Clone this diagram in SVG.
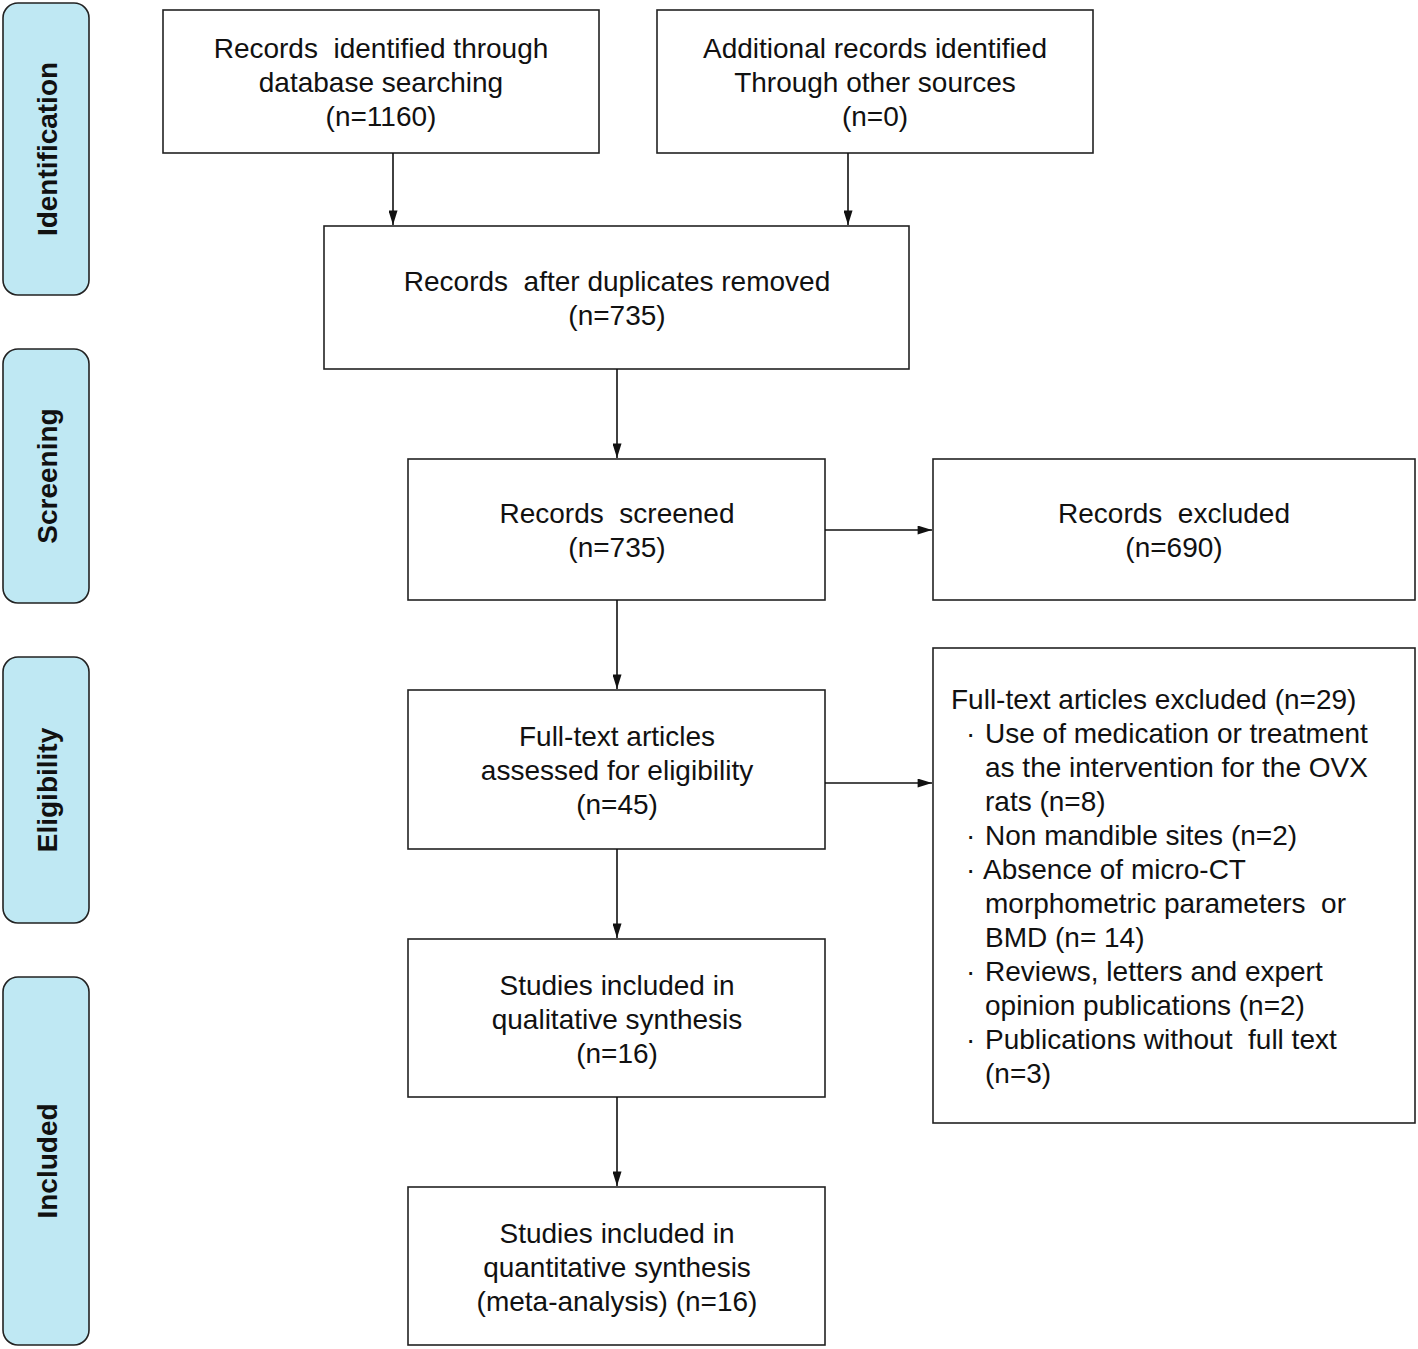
<svg xmlns="http://www.w3.org/2000/svg" width="1418" height="1349" viewBox="0 0 1418 1349">
<style>
.box{fill:#fff;stroke:#222;stroke-width:1.6}
.side{fill:#bfe8f3;stroke:#222;stroke-width:1.6}
.t{font-family:"Liberation Sans",Arial,sans-serif;font-size:28px;fill:#111;text-anchor:middle}
.tl{font-family:"Liberation Sans",Arial,sans-serif;font-size:28px;fill:#111}
.s{font-family:"Liberation Sans",Arial,sans-serif;font-size:28px;font-weight:bold;fill:#111;text-anchor:middle}
.c{stroke:#111;stroke-width:1.6;fill:none;marker-end:url(#a)}
</style>
<defs>
<marker id="a" viewBox="0 0 16 10" refX="16" refY="5" markerWidth="15" markerHeight="9" markerUnits="userSpaceOnUse" orient="auto">
<path d="M0,0 L16,5 L0,10 z" fill="#111"/>
</marker>
</defs>
<rect width="1418" height="1349" fill="#fff"/>
<g id="side-identification"><rect class="side" x="3" y="3" width="86" height="292" rx="15"/><text class="s" transform="translate(57,149) rotate(-90)">Identification</text></g>
<g id="side-screening"><rect class="side" x="3" y="349" width="86" height="254" rx="15"/><text class="s" transform="translate(57,476) rotate(-90)">Screening</text></g>
<g id="side-eligibility"><rect class="side" x="3" y="657" width="86" height="266" rx="15"/><text class="s" transform="translate(57,790) rotate(-90)">Eligibility</text></g>
<g id="side-included"><rect class="side" x="3" y="977" width="86" height="368" rx="15"/><text class="s" transform="translate(57,1161) rotate(-90)">Included</text></g>

<g id="n1"><rect class="box" x="163" y="10" width="436" height="143"/>
<text class="t" x="381" y="58" xml:space="preserve">Records  identified through</text>
<text class="t" x="381" y="92">database searching</text>
<text class="t" x="381" y="126">(n=1160)</text></g>
<g id="n2"><rect class="box" x="657" y="10" width="436" height="143"/>
<text class="t" x="875" y="58">Additional records identified</text>
<text class="t" x="875" y="92">Through other sources</text>
<text class="t" x="875" y="126">(n=0)</text></g>
<g id="n3"><rect class="box" x="324" y="226" width="585" height="143"/>
<text class="t" x="617" y="291" xml:space="preserve">Records  after duplicates removed</text>
<text class="t" x="617" y="325">(n=735)</text></g>
<g id="n4"><rect class="box" x="408" y="459" width="417" height="141"/>
<text class="t" x="617" y="523" xml:space="preserve">Records  screened</text>
<text class="t" x="617" y="557">(n=735)</text></g>
<g id="n5"><rect class="box" x="933" y="459" width="482" height="141"/>
<text class="t" x="1174" y="523" xml:space="preserve">Records  excluded</text>
<text class="t" x="1174" y="557">(n=690)</text></g>
<g id="n6"><rect class="box" x="408" y="690" width="417" height="159"/>
<text class="t" x="617" y="746">Full-text articles</text>
<text class="t" x="617" y="780">assessed for eligibility</text>
<text class="t" x="617" y="814">(n=45)</text></g>
<g id="n7"><rect class="box" x="933" y="648" width="482" height="475"/>
<text class="tl" x="951" y="709">Full-text articles excluded (n=29)</text>
<text class="tl" x="966" y="743">·</text><text class="tl" x="985" y="743">Use of medication or treatment</text>
<text class="tl" x="985" y="777">as the intervention for the OVX</text>
<text class="tl" x="985" y="811">rats (n=8)</text>
<text class="tl" x="966" y="845">·</text><text class="tl" x="985" y="845">Non mandible sites (n=2)</text>
<text class="tl" x="966" y="879">·</text><text class="tl" x="983" y="879">Absence of micro-CT</text>
<text class="tl" x="985" y="913" xml:space="preserve">morphometric parameters  or</text>
<text class="tl" x="985" y="947">BMD (n= 14)</text>
<text class="tl" x="966" y="981">·</text><text class="tl" x="985" y="981">Reviews, letters and expert</text>
<text class="tl" x="985" y="1015">opinion publications (n=2)</text>
<text class="tl" x="966" y="1049">·</text><text class="tl" x="985" y="1049" xml:space="preserve">Publications without  full text</text>
<text class="tl" x="985" y="1083">(n=3)</text></g>
<g id="n8"><rect class="box" x="408" y="939" width="417" height="158"/>
<text class="t" x="617" y="995">Studies included in</text>
<text class="t" x="617" y="1029">qualitative synthesis</text>
<text class="t" x="617" y="1063">(n=16)</text></g>
<g id="n9"><rect class="box" x="408" y="1187" width="417" height="158"/>
<text class="t" x="617" y="1243">Studies included in</text>
<text class="t" x="617" y="1277">quantitative synthesis</text>
<text class="t" x="617" y="1311">(meta-analysis) (n=16)</text></g>

<g id="connectors">
<line class="c" x1="393" y1="153" x2="393" y2="225"/>
<line class="c" x1="848" y1="153" x2="848" y2="225"/>
<line class="c" x1="617" y1="369" x2="617" y2="458"/>
<line class="c" x1="617" y1="600" x2="617" y2="689"/>
<line class="c" x1="617" y1="849" x2="617" y2="938"/>
<line class="c" x1="617" y1="1097" x2="617" y2="1186"/>
<line class="c" x1="825" y1="530" x2="932" y2="530"/>
<line class="c" x1="825" y1="783" x2="932" y2="783"/>
</g>
</svg>
